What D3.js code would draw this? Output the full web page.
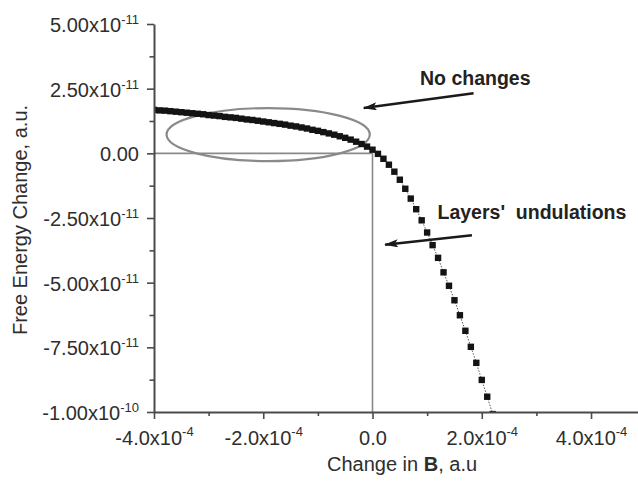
<!DOCTYPE html>
<html>
<head>
<meta charset="utf-8">
<script src="https://cdn.jsdelivr.net/npm/d3@7"></script>
<style>
  html, body { margin: 0; padding: 0; background: #fff; }
  svg { display: block; font-family: "Liberation Sans", Arial, Helvetica, sans-serif; }
</style>
</head>
<body>
<div id="chart"></div>
<script>
// ---- Data (x in units of 1e-4, y in units of 1e-11) ----
const bChange = [
  -4.0,-3.9,-3.8,-3.7,-3.6,-3.5,-3.4,-3.3,-3.2,-3.1,
  -3.0,-2.9,-2.8,-2.7,-2.6,-2.5,-2.4,-2.3,-2.2,-2.1,
  -2.0,-1.9,-1.8,-1.7,-1.6,-1.5,-1.4,-1.3,-1.2,-1.1,
  -1.0,-0.9,-0.8,-0.7,-0.6,-0.5,-0.4,-0.3,-0.2,-0.1,
   0.0, 0.1, 0.2, 0.3, 0.4, 0.5, 0.6, 0.7, 0.8, 0.9,
   1.0, 1.1, 1.2, 1.3, 1.4, 1.5, 1.6, 1.7, 1.8, 1.9,
   2.0, 2.1, 2.2
];
const freeEnergy = [
   1.68, 1.66, 1.65, 1.63, 1.61, 1.59, 1.57, 1.55, 1.53, 1.51,
   1.48, 1.46, 1.44, 1.41, 1.39, 1.37, 1.34, 1.31, 1.29, 1.26,
   1.23, 1.20, 1.17, 1.14, 1.11, 1.07, 1.04, 1.00, 0.96, 0.91,
   0.87, 0.82, 0.77, 0.72, 0.66, 0.60, 0.53, 0.45, 0.36, 0.26,
   0.14,-0.02,-0.21,-0.44,-0.71,-1.02,-1.37,-1.75,-2.16,-2.59,
  -3.06,-3.55,-4.04,-4.60,-5.12,-5.68,-6.26,-6.86,-7.48,-8.10,
  -8.76,-9.41,-10.08
];

const xTickValues = [-4, -2, 0, 2, 4];
const xTickMantissa = ["-4.0", "-2.0", "0.0", "2.0", "4.0"];
const xTickExponent = ["-4", "-4", "", "-4", "-4"];
const xMinorTicks = [-3, -1, 1, 3];

const yTickValues = [5, 2.5, 0, -2.5, -5, -7.5, -10];
const yTickMantissa = ["5.00", "2.50", "0.00", "-2.50", "-5.00", "-7.50", "-1.00"];
const yTickExponent = ["-11", "-11", "", "-11", "-11", "-11", "-10"];
const yMinorTicks = [3.75, 1.25, -1.25, -3.75, -6.25, -8.75];

const xTitle = ["Change in ", "B", ", a.u"];
const yTitle = "Free Energy Change, a.u.";

// Annotations (data units)
const ellipseBox = { x0: -3.77, x1: -0.05, y0: 1.75, y1: -0.30 };
const notes = [
  { text: "No changes", tx: 0.87, ty: 2.65, from: [1.85, 2.32], to: [-0.16, 1.75] },
  { text: "Layers'\u00a0\u00a0undulations", tx: 1.19, ty: -2.53, from: [1.82, -3.17], to: [0.23, -3.53] }
];

// ---- Layout ----
const W = 638, H = 483;
const svg = d3.select("#chart").append("svg").attr("width", W).attr("height", H);

const x = d3.scaleLinear().domain([-4, 4.86]).range([154, 638]);
const y = d3.scaleLinear().domain([-10, 5]).range([412, 24]);

const axisColor = "#4a4a4a";
const textColor = "#2e2e2e";
const refColor = "#8a8a8a";

// clip
svg.append("clipPath").attr("id", "plotclip")
  .append("rect").attr("x", x(-4)).attr("y", y(5))
  .attr("width", x(4.86) - x(-4)).attr("height", y(-10) - y(5));

// reference lines
svg.append("line")
  .attr("x1", x(-4)).attr("x2", x(0)).attr("y1", y(0)).attr("y2", y(0))
  .attr("stroke", refColor).attr("stroke-width", 1.6);
svg.append("line")
  .attr("x1", x(0)).attr("x2", x(0)).attr("y1", y(0)).attr("y2", y(-10))
  .attr("stroke", refColor).attr("stroke-width", 1.6);

// ellipse
svg.append("ellipse")
  .attr("cx", (x(ellipseBox.x0) + x(ellipseBox.x1)) / 2)
  .attr("cy", (y(ellipseBox.y0) + y(ellipseBox.y1)) / 2)
  .attr("rx", (x(ellipseBox.x1) - x(ellipseBox.x0)) / 2)
  .attr("ry", (y(ellipseBox.y1) - y(ellipseBox.y0)) / 2)
  .attr("fill", "none").attr("stroke", refColor).attr("stroke-width", 2.2);

// data
const pts = bChange.map((b, i) => ({ b, e: freeEnergy[i] }));
const dataG = svg.append("g").attr("clip-path", "url(#plotclip)");
dataG.append("path")
  .datum(pts)
  .attr("fill", "none").attr("stroke", "#555").attr("stroke-width", 1)
  .attr("stroke-dasharray", "1.5,1.5")
  .attr("d", d3.line().x(d => x(d.b)).y(d => y(d.e)));
const sq = 6.4;
dataG.selectAll("rect.pt").data(pts).join("rect")
  .attr("class", "pt")
  .attr("x", d => x(d.b) - sq / 2).attr("y", d => y(d.e) - sq / 2)
  .attr("width", sq).attr("height", sq)
  .attr("fill", "#141414");

// ---- Axes ----
function styleAxis(g) {
  g.select(".domain").attr("stroke", axisColor).attr("stroke-width", 2);
  g.selectAll(".tick line").attr("stroke", axisColor).attr("stroke-width", 1.6);
}

const xAxisG = svg.append("g").attr("transform", `translate(0,${y(-10)})`)
  .call(d3.axisBottom(x).tickValues(xTickValues).tickSize(7).tickSizeOuter(0));
styleAxis(xAxisG);
xAxisG.selectAll(".tick text").each(function (d, i) {
  const t = d3.select(this).text(null)
    .attr("y", 32.5).attr("dy", 0)
    .attr("fill", textColor).attr("font-size", 20)
    .attr("font-family", '"Liberation Sans", Arial, sans-serif');
  t.append("tspan").text(xTickMantissa[i] + (xTickExponent[i] ? "x10" : ""));
  if (xTickExponent[i]) t.append("tspan").attr("font-size", 13).attr("dy", -9).text(xTickExponent[i]);
});
const xMinorG = svg.append("g").attr("transform", `translate(0,${y(-10)})`)
  .call(d3.axisBottom(x).tickValues(xMinorTicks).tickSize(4).tickFormat(""));
xMinorG.select(".domain").remove();
xMinorG.selectAll(".tick line").attr("stroke", axisColor).attr("stroke-width", 1.6);

const yAxisG = svg.append("g").attr("transform", `translate(${x(-4)},0)`)
  .call(d3.axisLeft(y).tickValues(yTickValues).tickSize(7).tickSizeOuter(0));
styleAxis(yAxisG);
yAxisG.selectAll(".tick text").each(function (d, i) {
  const t = d3.select(this).text(null)
    .attr("x", -15).attr("dy", "0.38em")
    .attr("fill", textColor).attr("font-size", 20)
    .attr("font-family", '"Liberation Sans", Arial, sans-serif');
  t.append("tspan").text(yTickMantissa[i] + (yTickExponent[i] ? "x10" : ""));
  if (yTickExponent[i]) t.append("tspan").attr("font-size", 13).attr("dy", -8).text(yTickExponent[i]);
});
const yMinorG = svg.append("g").attr("transform", `translate(${x(-4)},0)`)
  .call(d3.axisLeft(y).tickValues(yMinorTicks).tickSize(4.5).tickFormat(""));
yMinorG.select(".domain").remove();
yMinorG.selectAll(".tick line").attr("stroke", axisColor).attr("stroke-width", 1.6);

// axis titles
const xt = svg.append("text")
  .attr("x", 327).attr("y", 471)
  .attr("fill", textColor).attr("font-size", 20);
xt.append("tspan").text(xTitle[0]);
xt.append("tspan").attr("font-weight", "bold").text(xTitle[1]);
xt.append("tspan").text(xTitle[2]);

svg.append("text")
  .attr("transform", `translate(27,220) rotate(-90)`)
  .attr("text-anchor", "middle")
  .attr("fill", textColor).attr("font-size", 20)
  .text(yTitle);

// ---- Annotations ----
const defs = svg.append("defs");
defs.append("marker").attr("id", "arrowhead")
  .attr("viewBox", "0 0 14 8").attr("refX", 13).attr("refY", 4)
  .attr("markerWidth", 14).attr("markerHeight", 8)
  .attr("markerUnits", "userSpaceOnUse").attr("orient", "auto")
  .append("path").attr("d", "M0,0 L14,4 L0,8 L3,4 Z").attr("fill", "#1a1a1a");

notes.forEach(n => {
  svg.append("line")
    .attr("x1", x(n.from[0])).attr("y1", y(n.from[1]))
    .attr("x2", x(n.to[0])).attr("y2", y(n.to[1]))
    .attr("stroke", "#1a1a1a").attr("stroke-width", 2.5)
    .attr("marker-end", "url(#arrowhead)");
  svg.append("text")
    .attr("x", x(n.tx)).attr("y", y(n.ty))
    .attr("fill", "#222").attr("font-size", 19.5).attr("font-weight", "bold")
    .text(n.text);
});
</script>
</body>
</html>
